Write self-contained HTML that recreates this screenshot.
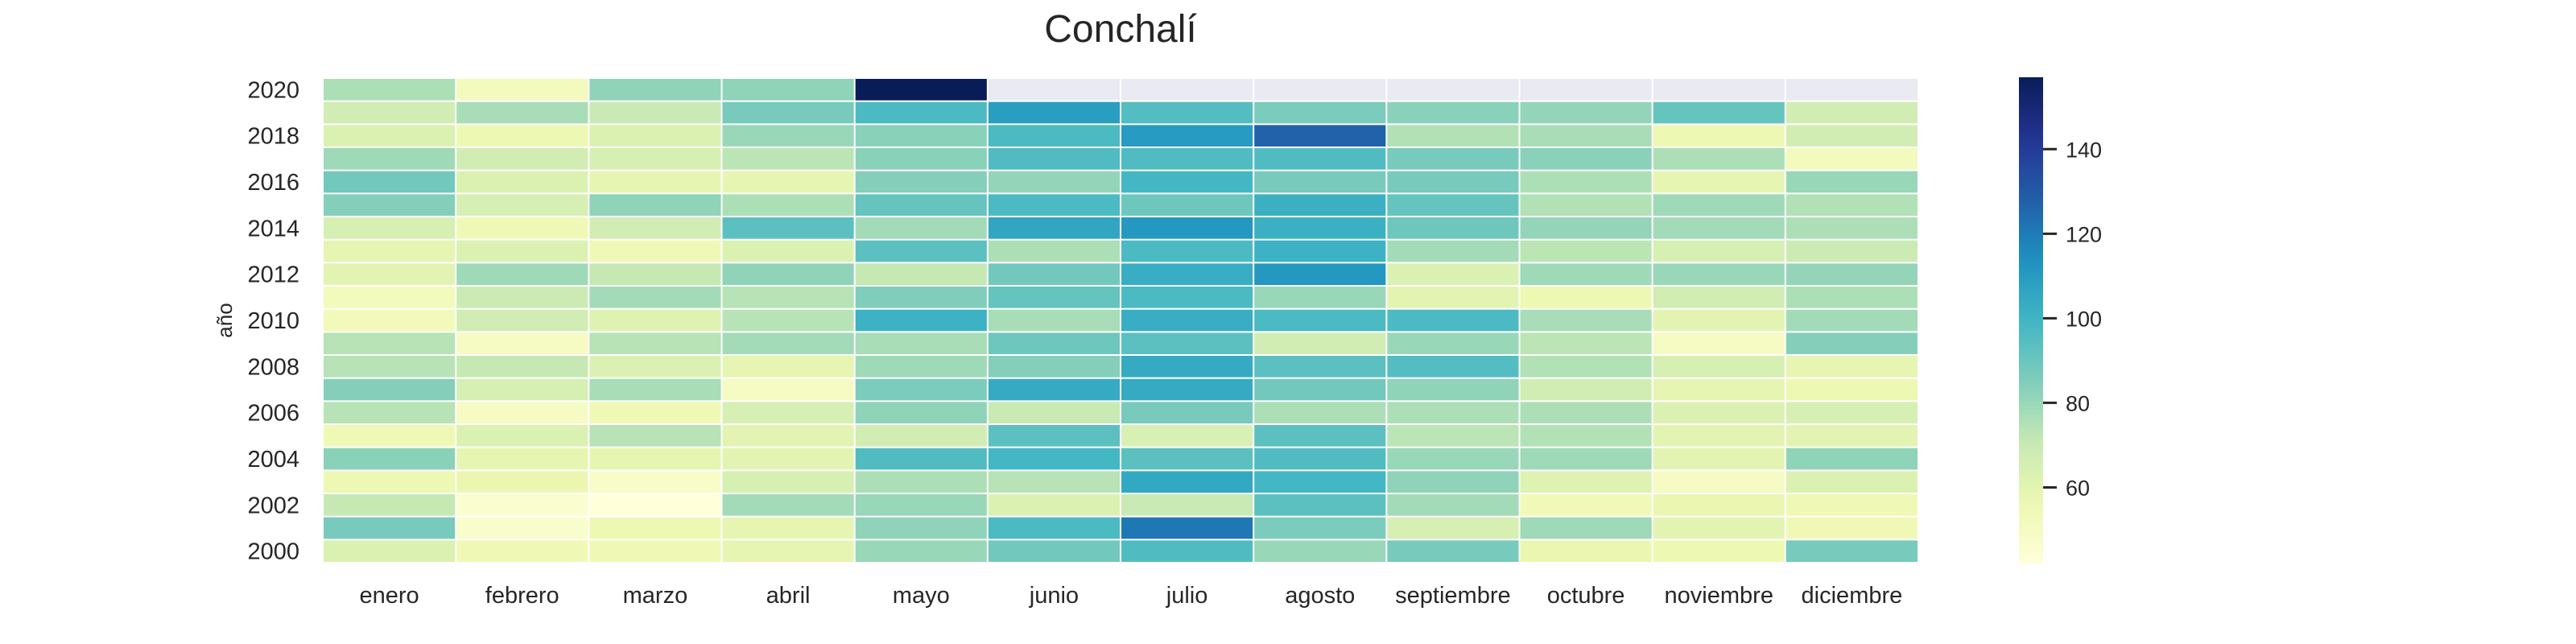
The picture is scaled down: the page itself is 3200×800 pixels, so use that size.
<!DOCTYPE html>
<html><head><meta charset="utf-8"><style>
html,body{margin:0;padding:0;background:#fff;}
svg{display:block;font-family:"Liberation Sans",sans-serif;}
</style></head><body>
<svg id="chart" width="3200" height="800" xmlns="http://www.w3.org/2000/svg">
<text x="1392" y="52" text-anchor="middle" font-size="48" fill="#262626">Conchalí</text>
<text transform="translate(288,398) rotate(-90)" text-anchor="middle" font-size="26" fill="#262626">año</text>
<g id="cells"></g>
<g id="ylabels"></g>
<g id="xlabels"></g>
<defs><linearGradient id="cbgrad" x1="0" y1="1" x2="0" y2="0"></linearGradient></defs>
<rect x="2508" y="96" width="30" height="604" fill="url(#cbgrad)"/>
<g id="cbticks"></g>
</svg>
<script>
const months = ["enero","febrero","marzo","abril","mayo","junio","julio","agosto","septiembre","octubre","noviembre","diciembre"];
const years = [2020,2019,2018,2017,2016,2015,2014,2013,2012,2011,2010,2009,2008,2007,2006,2005,2004,2003,2002,2001,2000];
const v2020 = [76,52,82,82,157,null,null,null,null,null,null,null];
const v2019 = [67,77,70,87,97,109,95,86,83,81,91,67];
const v2018 = [63,56,63,80,83,97,110,127,75,77,56,67];
const v2017 = [79,67,65,73,83,96,96,96,87,83,76,52];
const v2016 = [88,63,59,59,84,81,99,87,87,76,59,80];
const v2015 = [84,65,82,76,91,97,89,102,91,75,79,75];
const v2014 = [65,55,67,93,78,106,111,102,89,81,78,76];
const v2013 = [59,63,55,63,93,76,97,101,78,73,65,69];
const v2012 = [60,79,71,82,71,88,103,111,63,79,80,81];
const v2011 = [52,69,78,74,85,91,97,80,60,56,67,76];
const v2010 = [53,67,62,74,101,77,103,97,97,77,60,78];
const v2009 = [74,50,74,78,77,89,93,67,80,73,50,84];
const v2008 = [74,71,63,59,79,84,104,93,95,75,65,59];
const v2007 = [84,65,77,50,86,104,104,88,82,67,59,56];
const v2006 = [74,50,55,65,82,70,87,76,76,76,63,65];
const v2005 = [55,63,74,60,67,93,64,93,73,75,60,60];
const v2004 = [83,59,59,60,96,99,93,96,80,79,60,82];
const v2003 = [56,57,48,65,76,74,105,99,82,62,50,63];
const v2002 = [71,46,42,78,80,63,70,93,78,54,57,55];
const v2001 = [87,47,56,59,82,97,121,86,65,79,60,55];
const v2000 = [63,55,55,59,80,88,96,80,87,57,56,87];
const values = [v2020,v2019,v2018,v2017,v2016,v2015,v2014,v2013,v2012,v2011,v2010,v2009,v2008,v2007,v2006,v2005,v2004,v2003,v2002,v2001,v2000];
const cbTicks = [60,80,100,120,140];

const NS = "http://www.w3.org/2000/svg";
const X0 = 401, X1 = 2383, Y0 = 97, Y1 = 699;
const cw = (X1 - X0) / months.length, ch = (Y1 - Y0) / years.length;
const all = values.flat().filter(v => v !== null);
const vmin = Math.min(...all), vmax = Math.max(...all);
const stops = ["#ffffd9","#edf8b1","#c7e9b4","#7fcdbb","#41b6c4","#1d91c0","#225ea8","#253494","#081d58"];
function hex(h){return [1,3,5].map(i=>parseInt(h.substr(i,2),16));}
function cmap(t){
  t = Math.max(0, Math.min(1, t));
  const p = t * (stops.length - 1), i = Math.min(Math.floor(p), stops.length - 2), f = p - i;
  const a = hex(stops[i]), b = hex(stops[i+1]);
  return "rgb(" + a.map((c,k)=>Math.round(c + (b[k]-c)*f)).join(",") + ")";
}
function xScale(i){return X0 + i*cw;}
function yScale(j){return Y0 + j*ch;}
function cbY(v){return 700 - (v - vmin)/(vmax - vmin)*604;}

const cells = document.getElementById("cells");
values.forEach((row, j) => {
  row.forEach((v, i) => {
    const r = document.createElementNS(NS, "rect");
    r.setAttribute("x", xScale(i) + 1);
    r.setAttribute("y", yScale(j) + 1);
    r.setAttribute("width", cw - 2);
    r.setAttribute("height", ch - 2);
    r.setAttribute("fill", v === null ? "#eaeaf2" : cmap((v - vmin)/(vmax - vmin)));
    
    
    cells.appendChild(r);
  });
});

const yl = document.getElementById("ylabels");
years.forEach((y, j) => {
  if (y % 2 !== 0) return;
  const t = document.createElementNS(NS, "text");
  t.setAttribute("x", 372);
  t.setAttribute("y", yScale(j) + ch/2 + 10);
  t.setAttribute("text-anchor", "end");
  t.setAttribute("font-size", "29");
  t.setAttribute("fill", "#262626");
  t.textContent = y;
  
  
  yl.appendChild(t);
});

const xl = document.getElementById("xlabels");
months.forEach((m, i) => {
  const t = document.createElementNS(NS, "text");
  t.setAttribute("x", xScale(i) + cw/2);
  t.setAttribute("y", 749);
  t.setAttribute("text-anchor", "middle");
  t.setAttribute("font-size", "29");
  t.setAttribute("fill", "#262626");
  t.textContent = m;
  
  
  xl.appendChild(t);
});

const grad = document.getElementById("cbgrad");
for (let k = 0; k <= 20; k++) {
  const s = document.createElementNS(NS, "stop");
  s.setAttribute("offset", (k/20));
  s.setAttribute("stop-color", cmap(k/20));
  grad.appendChild(s);
}
const cbt = document.getElementById("cbticks");
cbTicks.forEach(v => {
  const y = cbY(v);
  const l = document.createElementNS(NS, "line");
  l.setAttribute("x1", 2538); l.setAttribute("x2", 2555);
  l.setAttribute("y1", y); l.setAttribute("y2", y);
  l.setAttribute("stroke", "#262626"); l.setAttribute("stroke-width", "3");
  
  
  cbt.appendChild(l);
  const t = document.createElementNS(NS, "text");
  t.setAttribute("x", 2566); t.setAttribute("y", y + 10);
  t.setAttribute("font-size", "27"); t.setAttribute("fill", "#262626");
  t.textContent = v;
  
  
  cbt.appendChild(t);
});
</script>
</body></html>
